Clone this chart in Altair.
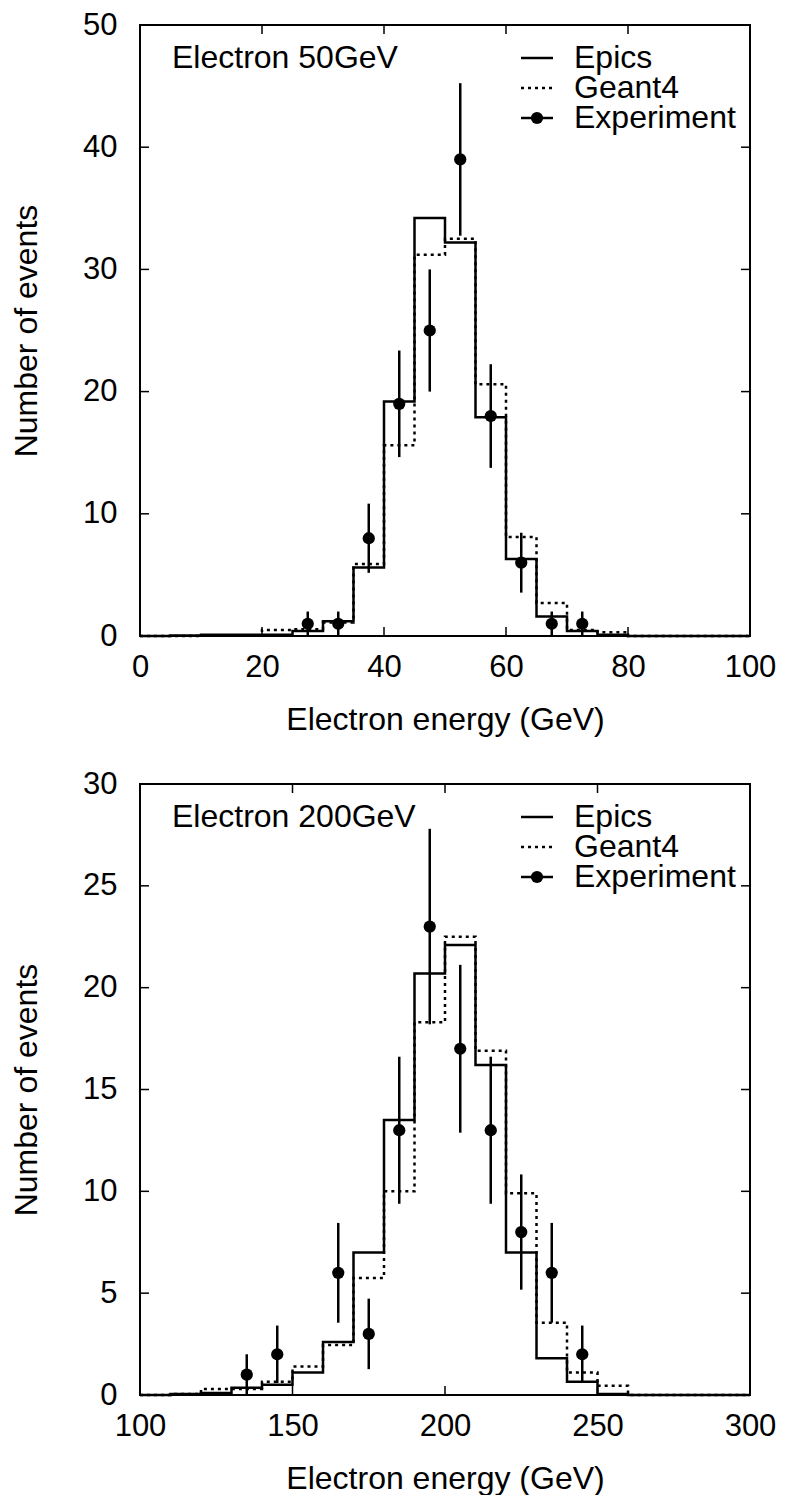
import altair as alt
import pandas as pd

FONT = "Liberation Sans"
W, H = 610, 611

# ---------------- Top panel: Electron 50 GeV ----------------
top_edges = [0, 5, 10, 15, 20, 25, 30, 35, 40, 45, 50, 55, 60, 65, 70, 75, 80, 85, 90, 95, 100]
top_epics = [0.0, 0.05, 0.1, 0.1, 0.1, 0.4, 1.2, 5.6, 19.2, 34.2, 32.2, 17.9, 6.3, 1.6, 0.4, 0.1, 0.0, 0.0, 0.0, 0.0]
top_geant4 = [0.0, 0.0, 0.05, 0.05, 0.5, 0.55, 1.1, 5.9, 15.6, 31.2, 32.5, 20.6, 8.1, 2.7, 0.5, 0.3, 0.0, 0.0, 0.0, 0.0]
top_exp_x = [27.5, 32.5, 37.5, 42.5, 47.5, 52.5, 57.5, 62.5, 67.5, 72.5]
top_exp_y = [1, 1, 8, 19, 25, 39, 18, 6, 1, 1]
top_exp_err = [1.0, 1.0, 2.83, 4.36, 5.0, 6.24, 4.24, 2.45, 1.0, 1.0]
top_xticks = [0, 20, 40, 60, 80, 100]
top_yticks = [0, 10, 20, 30, 40, 50]

# ---------------- Bottom panel: Electron 200 GeV ----------------
bot_edges = [100, 110, 120, 130, 140, 150, 160, 170, 180, 190, 200, 210, 220, 230, 240, 250, 260, 270, 280, 290, 300]
bot_epics = [0.0, 0.05, 0.1, 0.35, 0.5, 1.1, 2.6, 7.0, 13.5, 20.7, 22.1, 16.2, 7.0, 1.8, 0.65, 0.05, 0.0, 0.0, 0.0, 0.0]
bot_geant4 = [0.0, 0.05, 0.3, 0.3, 0.65, 1.4, 2.45, 5.75, 10.0, 18.3, 22.5, 16.9, 9.9, 3.55, 1.1, 0.45, 0.0, 0.0, 0.0, 0.0]
bot_exp_x = [135, 145, 165, 175, 185, 195, 205, 215, 225, 235, 245]
bot_exp_y = [1, 2, 6, 3, 13, 23, 17, 13, 8, 6, 2]
bot_exp_err = [1.0, 1.41, 2.45, 1.73, 3.61, 4.8, 4.12, 3.61, 2.83, 2.45, 1.41]
bot_xticks = [100, 150, 200, 250, 300]
bot_yticks = [0, 5, 10, 15, 20, 25, 30]

legend_labels = ["Epics", "Geant4", "Experiment"]
ROWS_Y = [33, 63, 93]


def step_frame(edges, values):
    return pd.DataFrame({"x": list(edges), "y": list(values) + [values[-1]]})


def panel(edges, epics, geant, ex, ey, eerr, xdom, ydom, xticks, yticks, label):
    xs = alt.Scale(domain=xdom, nice=False, zero=False)
    ys = alt.Scale(domain=ydom, nice=False, zero=False)
    xax = alt.Axis(values=xticks, title="Electron energy (GeV)", format="d",
                   labelPadding=16, labelFlush=False, titleY=93, titleBaseline="alphabetic")
    yax = alt.Axis(values=yticks, title="Number of events", format="d",
                   labelPadding=23, labelFlush=False, titleX=-104, titleY=H / 2,
                   titleBaseline="alphabetic")

    def X(f):
        return alt.X(f, scale=xs, axis=xax, title="Electron energy (GeV)")

    def Y(f):
        return alt.Y(f, scale=ys, axis=yax, title="Number of events")

    g = alt.Chart(step_frame(edges, geant)).mark_line(
        interpolate="step-after", color="black", strokeWidth=2.5, strokeDash=[3, 4]
    ).encode(x=X("x:Q"), y=Y("y:Q"))

    e = alt.Chart(step_frame(edges, epics)).mark_line(
        interpolate="step-after", color="black", strokeWidth=2.5
    ).encode(x=X("x:Q"), y=Y("y:Q"))

    exp = pd.DataFrame({"x": ex, "y": ey, "lo": [a - b for a, b in zip(ey, eerr)],
                        "hi": [a + b for a, b in zip(ey, eerr)]})
    bars = alt.Chart(exp).mark_rule(color="black", strokeWidth=2.5).encode(
        x=X("x:Q"), y=Y("lo:Q"), y2="hi:Q")
    pts = alt.Chart(exp).mark_point(filled=True, shape="circle", color="black",
                                    size=150, opacity=1).encode(x=X("x:Q"), y=Y("y:Q"))

    # inward ticks on all four sides
    xt = pd.DataFrame({"v": xticks})
    yt = pd.DataFrame({"v": yticks})
    tk = dict(color="black", strokeWidth=1.5)
    t_bottom = alt.Chart(xt).mark_rule(**tk).encode(x=X("v:Q"), y=alt.value(H), y2=alt.value(H - 9))
    t_top = alt.Chart(xt).mark_rule(**tk).encode(x=X("v:Q"), y=alt.value(0), y2=alt.value(9))
    t_left = alt.Chart(yt).mark_rule(**tk).encode(y=Y("v:Q"), x=alt.value(0), x2=alt.value(9))
    t_right = alt.Chart(yt).mark_rule(**tk).encode(y=Y("v:Q"), x=alt.value(W), x2=alt.value(W - 9))

    # annotation + legend
    one = pd.DataFrame({"a": [0]})
    txt = dict(font=FONT, fontSize=32, color="black", align="left", baseline="middle")
    layers = [g, e, bars, pts, t_bottom, t_top, t_left, t_right]
    layers.append(alt.Chart(one).mark_text(**txt, text=label).encode(
        x=alt.value(32), y=alt.value(ROWS_Y[0])))
    for lab, ry in zip(legend_labels, ROWS_Y):
        layers.append(alt.Chart(one).mark_text(**txt, text=lab).encode(
            x=alt.value(434), y=alt.value(ry)))
    layers.append(alt.Chart(one).mark_rule(color="black", strokeWidth=2.5).encode(
        x=alt.value(381), x2=alt.value(413), y=alt.value(ROWS_Y[0])))
    layers.append(alt.Chart(one).mark_rule(color="black", strokeWidth=2.5, strokeDash=[3, 4]).encode(
        x=alt.value(381), x2=alt.value(413), y=alt.value(ROWS_Y[1])))
    layers.append(alt.Chart(one).mark_rule(color="black", strokeWidth=2.5).encode(
        x=alt.value(381), x2=alt.value(413), y=alt.value(ROWS_Y[2])))
    layers.append(alt.Chart(one).mark_point(filled=True, shape="circle", color="black",
                                            size=150, opacity=1).encode(
        x=alt.value(397), y=alt.value(ROWS_Y[2])))

    return alt.layer(*layers).properties(width=W, height=H)


top = panel(top_edges, top_epics, top_geant4, top_exp_x, top_exp_y, top_exp_err,
            [0, 100], [0, 50], top_xticks, top_yticks, "Electron 50GeV")
bot = panel(bot_edges, bot_epics, bot_geant4, bot_exp_x, bot_exp_y, bot_exp_err,
            [100, 300], [0, 30], bot_xticks, bot_yticks, "Electron 200GeV")

chart = alt.vconcat(top, bot, spacing=148, bounds="flush").properties(
    padding={"left": 1, "top": 0, "right": 0, "bottom": 0},
    background="white",
).configure_view(
    stroke="black", strokeWidth=2
).configure_axis(
    domain=False, ticks=False, tickSize=0, grid=False, labelFlush=False,
    labelFont=FONT, labelFontSize=31, labelColor="black",
    titleFont=FONT, titleFontSize=32, titleFontWeight="normal", titleColor="black",
)

chart.save("out.html", embed_options={"renderer": "svg", "actions": False})
